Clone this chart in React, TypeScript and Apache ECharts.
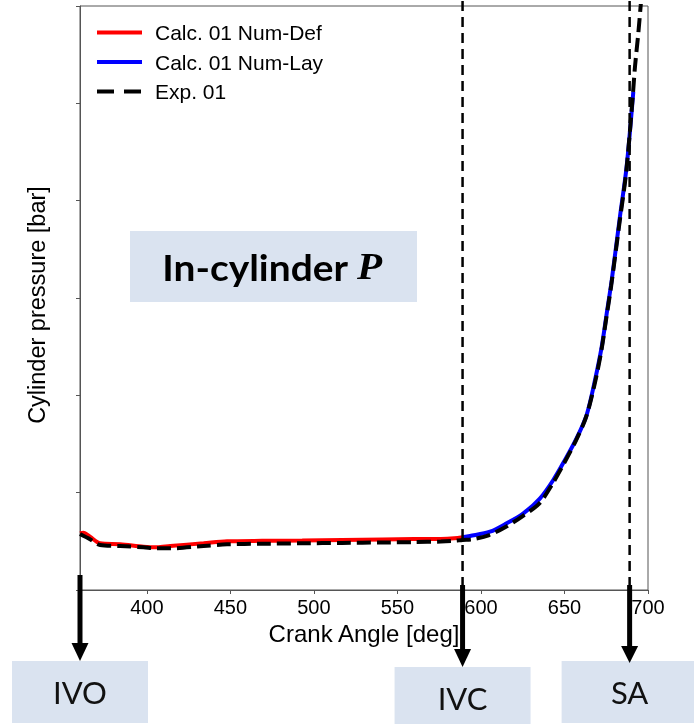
import React, { useEffect, useRef } from 'react';
import * as echarts from 'echarts';

// Crank angle tick labels
const xTicks = [400, 450, 500, 550, 600, 650, 700];

// [crank angle (deg), pressure (bar)]
const numDef: [number, number][] = [
  [360, 5.83], [362, 5.88], [366, 5.48], [372, 4.8], [384, 4.7], [398, 4.45], [406, 4.39],
  [414, 4.52], [434, 4.8], [448, 5.0], [469, 5.05], [493, 5.08], [517, 5.14], [541, 5.2],
  [560, 5.23], [576, 5.25], [584, 5.32], [589, 5.42],
];

const numLay: [number, number][] = [
  [589, 5.42], [593.4, 5.55], [605.4, 5.99], [615.4, 6.85], [625.4, 7.88], [635.4, 9.42],
  [643.3, 11.3], [650.3, 13.36], [657.3, 15.6], [663.3, 18.0], [668.3, 21.58], [672.3, 25.0],
  [675.3, 28.43], [678.3, 31.85], [683.2, 38.35], [687.2, 43.49], [691.2, 51.19],
];

const exp01: [number, number][] = [
  [360, 5.75], [366, 5.21], [372, 4.62], [384, 4.52], [398, 4.39], [406, 4.28], [414, 4.28],
  [434, 4.52], [448, 4.7], [469, 4.75], [493, 4.8], [517, 4.84], [541, 4.88], [560, 4.92],
  [576, 4.98], [584, 5.05], [589, 5.14], [595, 5.21], [605, 5.65], [615, 6.5], [625, 7.6],
  [635, 8.9], [643, 10.96], [650, 13.1], [657, 15.4], [663, 17.8], [668, 21.1], [672, 24.5],
  [675, 27.9], [678, 31.3], [683, 37.8], [687, 43.0], [691, 51.0], [692.2, 53.75],
  [694.2, 57.2], [695.6, 60], [697, 63],
];

// Valve / spark events
const eventNames = ['IVO', 'IVC', 'SA'];
const eventAngles = [360, 589, 689];
const eventDashed = [false, true, true];

// annotation layout (pixels), not data
const shaftTops = [575, 585, 585];
const headTops = [643, 649, 646];
const tipYs = [661, 667, 663];
const boxTops = [661, 667, 661];

export default function App() {
  const ref = useRef<HTMLDivElement>(null);
  useEffect(() => {
    const chart = echarts.init(ref.current!, null, { renderer: 'svg' });
    const font = 'Liberation Sans';
    chart.setOption({
      animation: false,
      textStyle: { fontFamily: font },
      grid: {
        left: 80, right: 46, top: 6, bottom: 134,
        show: true, borderColor: '#555', borderWidth: 1, backgroundColor: 'transparent',
      },
      legend: {
        orient: 'vertical',
        left: 95,
        top: 22,
        padding: 0,
        itemWidth: 45,
        itemHeight: 20,
        itemGap: 8.5,
        itemStyle: { opacity: 0 },
        lineStyle: { width: 4 },
        textStyle: { fontSize: 21, color: '#000', fontFamily: font, padding: [0, 0, 0, 8] },
        data: [
          'Calc. 01 Num-Def',
          'Calc. 01 Num-Lay',
          { name: 'Exp. 01', lineStyle: { width: 4, type: [17, 10] } },
        ],
      },
      xAxis: {
        type: 'value',
        min: 360,
        max: 700,
        name: 'Crank Angle [deg]',
        nameLocation: 'middle',
        nameGap: 29,
        nameTextStyle: { fontSize: 24, color: '#000', fontFamily: font },
        axisLine: { show: true, lineStyle: { color: '#555', width: 1 } },
        axisTick: { show: true, length: 4, customValues: xTicks, lineStyle: { color: '#555' } },
        axisLabel: { customValues: xTicks, fontSize: 20, color: '#000', margin: 7, fontFamily: font },
        splitLine: { show: false },
      },
      yAxis: {
        type: 'value',
        min: 0,
        max: 60,
        interval: 10,
        name: 'Cylinder pressure [bar]',
        nameLocation: 'middle',
        nameGap: 31,
        nameTextStyle: { fontSize: 23.5, color: '#000', fontFamily: font, padding: [0, 14, 0, 0] },
        axisLine: { show: true, lineStyle: { color: '#555', width: 1 } },
        axisTick: { show: true, length: 4, lineStyle: { color: '#555' } },
        axisLabel: { show: false },
        splitLine: { show: false },
      },
      series: [
        {
          name: 'Calc. 01 Num-Def', type: 'line', data: numDef, symbol: 'none',
          smooth: 0.3,
          lineStyle: { color: '#ff0000', width: 4 }, itemStyle: { color: '#ff0000' },
        },
        {
          name: 'Calc. 01 Num-Lay', type: 'line', data: numLay, symbol: 'none',
          smooth: 0.3,
          lineStyle: { color: '#0000ff', width: 4 }, itemStyle: { color: '#0000ff' },
        },
        {
          name: 'Exp. 01', type: 'line', data: exp01, symbol: 'none',
          smooth: 0.3,
          lineStyle: { color: '#000', width: 4, type: [14, 6] }, itemStyle: { color: '#000' },
        },
      ],
    });

    const boxFill = '#dae3f0';
    const labelFont = 'Lato';
    const elements: any[] = [];
    const plotBottom = chart.convertToPixel({ yAxisIndex: 0 }, 0) as number;
    eventNames.forEach((name, i) => {
      const x = chart.convertToPixel({ xAxisIndex: 0 }, eventAngles[i]) as number;
      if (eventDashed[i]) {
        elements.push({
          type: 'line', z: 100,
          shape: { x1: x, y1: 1, x2: x, y2: plotBottom - 4 },
          style: { stroke: '#000', lineWidth: 2.5, lineDash: [10, 6] },
        });
      }
      elements.push({
        type: 'line', z: 101,
        shape: { x1: x, y1: shaftTops[i], x2: x, y2: headTops[i] + 1 },
        style: { stroke: '#000', lineWidth: 5 },
      });
      elements.push({
        type: 'rect', z: 99,
        shape: { x: x - 68, y: boxTops[i], width: 136, height: 62 },
        style: { fill: boxFill },
      });
      elements.push({
        type: 'polygon', z: 102,
        shape: { points: [[x - 8.5, headTops[i]], [x + 8.5, headTops[i]], [x, tipYs[i]]] },
        style: { fill: '#000' },
      });
      elements.push({
        type: 'text', z: 103,
        x, y: boxTops[i] + 31,
        style: {
          text: name, fontFamily: labelFont, fontSize: 31, fill: '#111',
          align: 'center', verticalAlign: 'middle',
        },
      });
    });
    // title box
    elements.push({
      type: 'rect', z: 99,
      shape: { x: 130, y: 231, width: 287, height: 71 },
      style: { fill: boxFill },
    });
    elements.push({
      type: 'text', z: 103,
      x: 272, y: 267, scaleX: 1.08,
      style: {
        text: '{a|In-cylinder }{p|P}',
        align: 'center', verticalAlign: 'middle',
        rich: {
          a: { fontFamily: labelFont, fontWeight: 'bold', fontSize: 36, fill: '#000' },
          p: { fontFamily: 'Liberation Serif', fontStyle: 'italic', fontWeight: 'bold', fontSize: 38, fill: '#000' },
        },
      },
    });
    chart.setOption({ graphic: elements });

    return () => chart.dispose();
  }, []);
  return <div ref={ref} style={{ position: 'fixed', left: 0, top: 0, width: 694, height: 724 }} />;
}
